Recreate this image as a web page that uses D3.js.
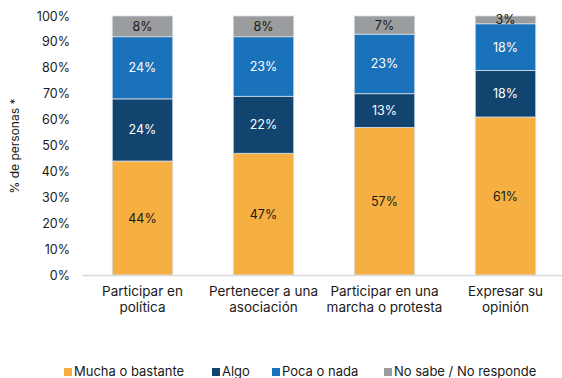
<!DOCTYPE html>
<html>
<head>
<meta charset="utf-8">
<script src="https://cdn.jsdelivr.net/npm/d3@7"></script>
<style>
  html, body { margin: 0; padding: 0; background: #fff; }
  svg { display: block; font-family: Inter, "Open Sans", sans-serif; }
</style>
</head>
<body>
<svg id="chart" width="562" height="378"></svg>
<script>
// Categories (two-line labels) and stacked series, in percent
const categories = [
  ["Participar en", "política"],
  ["Pertenecer a una", "asociación"],
  ["Participar en una", "marcha o protesta"],
  ["Expresar su", "opinión"]
];
const seriesNames = ["Mucha o bastante", "Algo", "Poca o nada", "No sabe / No responde"];
const muchaBastante = [44, 47, 57, 61];
const algo = [24, 22, 13, 18];
const pocaNada = [24, 23, 23, 18];
const noSabe = [8, 8, 7, 3];
const yTicks = [0, 10, 20, 30, 40, 50, 60, 70, 80, 90, 100];

const colors = ["#F5B041", "#124470", "#1A72BA", "#9B9C9D"];
const labelColors = ["#1a1a1a", "#ffffff", "#ffffff", "#1a1a1a"];

const svg = d3.select("#chart");
const x0 = 82, x1 = 566;

const stackData = categories.map((c, i) => {
  const vals = [muchaBastante[i], algo[i], pocaNada[i], noSabe[i]];
  const o = { key: i };
  seriesNames.forEach((s, j) => o[s] = vals[j]);
  return o;
});
const stacked = d3.stack().keys(seriesNames)(stackData);

const x = d3.scaleBand().domain(d3.range(categories.length)).range([x0, x1]).paddingInner(0.5).paddingOuter(0.25);
const y = d3.scaleLinear().domain([0, 100]).range([275, 16]);

// Y axis tick labels
const yAxis = d3.axisLeft(y).tickValues(yTicks).tickFormat(d => d + "%").tickSize(0).tickPadding(0);
const gy = svg.append("g").attr("transform", "translate(70,0)").call(yAxis);
gy.select(".domain").remove();
gy.selectAll("text").attr("font-size", 12.5).attr("fill", "#1a1a1a").attr("font-family", "Inter, sans-serif");

// Y axis title
svg.append("text")
  .attr("transform", "translate(19,146) rotate(-90)")
  .attr("text-anchor", "middle")
  .attr("font-size", 12)
  .attr("fill", "#1a1a1a")
  .text("% de personas *");

// Stacked bars
const layers = svg.append("g").selectAll("g").data(stacked).join("g")
  .attr("fill", (d, i) => colors[i]);
layers.selectAll("rect").data(d => d).join("rect")
  .attr("x", (d, i) => x(i))
  .attr("width", x.bandwidth())
  .attr("y", d => y(d[1]))
  .attr("height", d => y(d[0]) - y(d[1]))
  .attr("stroke", "#d8dde6")
  .attr("stroke-width", 0.8);

// Value labels
stacked.forEach((layer, si) => {
  svg.append("g").selectAll("text").data(layer).join("text")
    .attr("x", (d, i) => x(i) + x.bandwidth() / 2)
    .attr("y", d => (y(d[0]) + y(d[1])) / 2)
    .attr("dy", "0.36em")
    .attr("text-anchor", "middle")
    .attr("font-size", 12.5)
    .attr("fill", labelColors[si])
    .text(d => (d[1] - d[0]) + "%");
});

// Baseline
svg.append("line")
  .attr("x1", x0).attr("x2", 562)
  .attr("y1", y(0) + 0.5).attr("y2", y(0) + 0.5)
  .attr("stroke", "#d9d9d9").attr("stroke-width", 1.5);

// Category labels
const gx = svg.append("g");
categories.forEach((lines, i) => {
  const cx = x(i) + x.bandwidth() / 2;
  const t = gx.append("text")
    .attr("x", cx)
    .attr("y", 296)
    .attr("text-anchor", "middle")
    .attr("font-size", 13.5)
    .attr("fill", "#1a1a1a");
  lines.forEach((l, k) => t.append("tspan")
    .attr("x", cx)
    .attr("dy", k === 0 ? 0 : 16)
    .text(l));
});

// Legend
const legendX = [64, 212, 272, 384];
const leg = svg.append("g");
seriesNames.forEach((s, i) => {
  leg.append("rect")
    .attr("x", legendX[i]).attr("y", 368)
    .attr("width", 8).attr("height", 8)
    .attr("fill", colors[i]);
  leg.append("text")
    .attr("x", legendX[i] + 10).attr("y", 376)
    .attr("font-size", 13)
    .attr("fill", "#1a1a1a")
    .text(s);
});
</script>
</body>
</html>
